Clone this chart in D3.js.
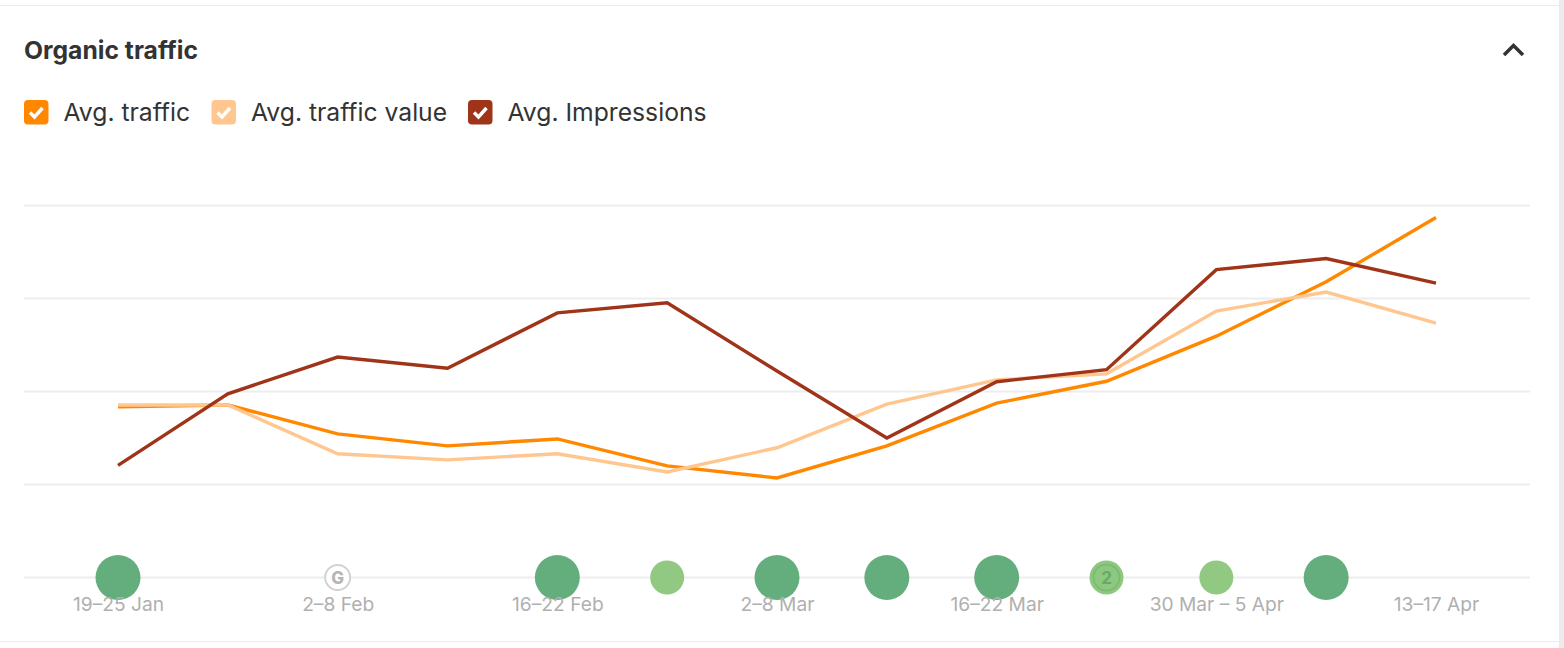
<!DOCTYPE html>
<html>
<head>
<meta charset="utf-8">
<script src="https://cdn.jsdelivr.net/npm/d3@7/dist/d3.min.js"></script>
<style>
html,body{margin:0;padding:0;background:#fff;overflow:hidden}
svg{display:block;font-family:Inter,sans-serif}
</style>
</head>
<body>
<svg id="chart" width="1564" height="648"></svg>
<script>
// Weekly organic traffic figures
const weeks = ["19–25 Jan","26 Jan – 1 Feb","2–8 Feb","9–15 Feb","16–22 Feb","23 Feb – 1 Mar","2–8 Mar","9–15 Mar","16–22 Mar","23–29 Mar","30 Mar – 5 Apr","6–12 Apr","13–17 Apr"];
const labelledWeeks = ["19–25 Jan","2–8 Feb","16–22 Feb","2–8 Mar","16–22 Mar","30 Mar – 5 Apr","13–17 Apr"];
const avgTraffic = [183.5,185.5,154.5,141.5,149,120,107,141.5,187.5,211,259.5,318,387];
const avgTrafficValue = [185.5,185.5,133,126.5,133,113.5,139.5,186.5,212.5,219,286.5,307,273.5];
const avgImpressions = [120.5,197.5,237,225,284.5,295.5,222,150,210.5,223.5,331,343,316.5];
const gridValues = [0,100,200,300,400];
const seriesNames = ["Avg. traffic","Avg. traffic value","Avg. Impressions"];
const seriesColors = ["#ff8800","#ffc78f","#a03418"];

// Update markers sitting on the baseline: week, kind and optional count
const markerWeeks = ["19–25 Jan","2–8 Feb","16–22 Feb","23 Feb – 1 Mar","2–8 Mar","9–15 Mar","16–22 Mar","23–29 Mar","30 Mar – 5 Apr","6–12 Apr"];
const markerKinds = ["major","google","major","minor","major","major","major","counted","minor","major"];
const markerCounts = [0,0,0,0,0,0,0,2,0,0];

const svg = d3.select("#chart");
const x = d3.scalePoint().domain(weeks).range([118,1436]);
const y = d3.scaleLinear().domain([0,400]).range([577.5,205.5]);

// Card edges and the page scrollbar strip
svg.append("rect").attr("x",1559).attr("y",0).attr("width",5).attr("height",648).attr("fill","#eaebed");
[5.5,641.5].forEach(p=>svg.append("line").attr("x1",0).attr("x2",1559).attr("y1",p).attr("y2",p).attr("stroke","#ebebeb").attr("stroke-width",1));

svg.append("text").attr("x",24).attr("y",58.5).attr("font-size",24.7).attr("font-weight",700).attr("fill","#333333").text("Organic traffic");

// Collapse chevron
svg.append("path").attr("d","M1504 55 L1513.5 45.5 L1523 55").attr("fill","none").attr("stroke","#333333").attr("stroke-width",3.5);

// Legend checkboxes
const legendBoxX = [24,211.5,468];
const legend = svg.selectAll("g.legend").data(seriesNames).join("g").attr("class","legend")
  .attr("transform",(d,i)=>`translate(${legendBoxX[i]},100)`);
legend.append("rect").attr("width",24.5).attr("height",24.5).attr("rx",4).attr("fill",(d,i)=>seriesColors[i]);
legend.append("path").attr("d","M6 12.5 L10.5 17 L18.5 8").attr("fill","none").attr("stroke","#fff").attr("stroke-width",3.4);
legend.append("text").attr("x",39.5).attr("y",21).attr("font-size",24.7).attr("fill","#333333").text(d=>d);

// Horizontal grid
svg.append("g").selectAll("line").data(gridValues).join("line")
  .attr("x1",24).attr("x2",1530)
  .attr("y1",d=>y(d)).attr("y2",d=>y(d))
  .attr("stroke","#ededed").attr("stroke-width",2);

// Series lines
const line = d3.line().x((d,i)=>x(weeks[i])).y(d=>y(d));
[avgTraffic,avgTrafficValue,avgImpressions].forEach((s,i)=>{
  svg.append("path").datum(s).attr("d",line).attr("fill","none")
    .attr("stroke",seriesColors[i]).attr("stroke-width",3.4).attr("stroke-linejoin","miter");
});

// Baseline markers, translucent so the grid shows through
const markers = svg.append("g").selectAll("g").data(markerWeeks).join("g")
  .attr("transform",d=>`translate(${x(d)},${y(0)})`);
markers.each(function(d,i){
  const g = d3.select(this), k = markerKinds[i];
  if(k==="major"){
    g.append("circle").attr("r",22.5).attr("fill","#5aa874").attr("fill-opacity",0.94);
  } else if(k==="minor"){
    g.append("circle").attr("r",17).attr("fill","#8ac67b").attr("fill-opacity",0.94);
  } else if(k==="counted"){
    g.append("circle").attr("r",17).attr("fill","#8cc87f");
    g.append("circle").attr("r",13).attr("fill","none").attr("stroke","#7dbc73").attr("stroke-width",2);
    g.append("text").attr("text-anchor","middle").attr("y",6).attr("font-size",17).attr("font-weight",700).attr("fill","#69a965").text(markerCounts[i]);
  } else {
    g.append("circle").attr("r",12.5).attr("fill","#fff").attr("stroke","#d2d2d2").attr("stroke-width",2);
    g.append("text").attr("text-anchor","middle").attr("y",6).attr("font-size",17).attr("font-weight",800).attr("fill","#b5b5b5").text("G");
  }
});

// Week labels go last: they stay legible over the markers
const axis = d3.axisBottom(x).tickValues(labelledWeeks).tickSize(0).tickPadding(0);
const axisG = svg.append("g").attr("transform",`translate(0,${y(0)})`).call(axis);
axisG.select(".domain").remove();
axisG.selectAll("text").attr("y",20).attr("dy","0.71em").attr("font-family","Inter,sans-serif").attr("font-size",19.2).attr("fill","#b0b0b0");
</script>
</body>
</html>
